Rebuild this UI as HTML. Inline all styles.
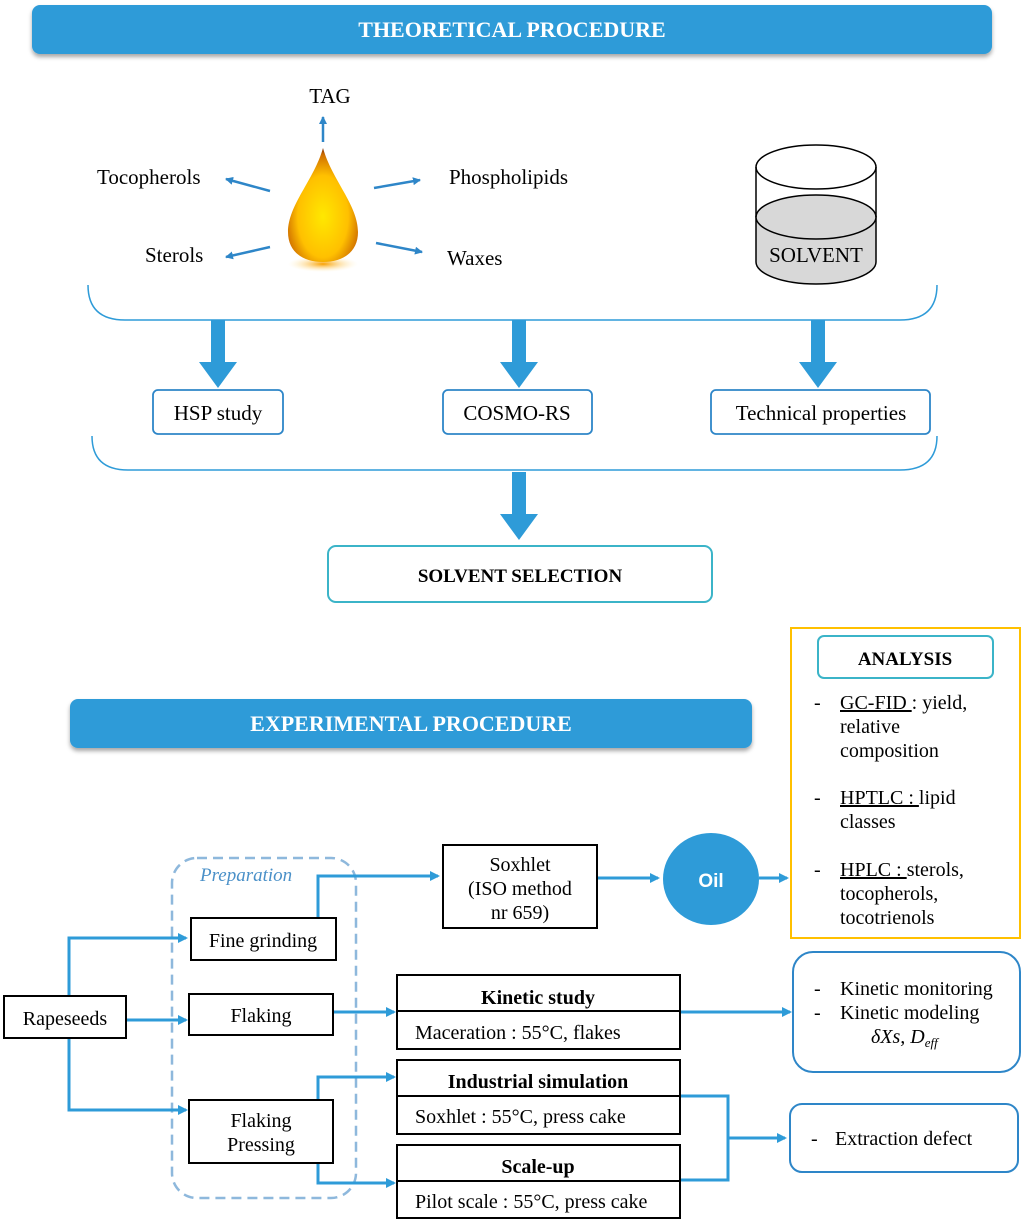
<!DOCTYPE html>
<html><head><meta charset="utf-8"><style>
html,body{margin:0;padding:0;background:#fff;}
svg{display:block;font-family:"Liberation Serif",serif;}
</style></head><body>
<svg width="1024" height="1225" viewBox="0 0 1024 1225" xmlns="http://www.w3.org/2000/svg">
<defs>
<marker id="a" markerWidth="10" markerHeight="10" refX="8" refY="5" orient="auto" markerUnits="userSpaceOnUse"><path d="M0,0 L10,5 L0,10 Z" fill="#2E9BD8"/></marker>
<marker id="s" markerWidth="8" markerHeight="8" refX="7" refY="4" orient="auto" markerUnits="userSpaceOnUse"><path d="M0,0 L8,4 L0,8 Z" fill="#2E86C8"/></marker>
<radialGradient id="drop" cx="0.5" cy="0.6" r="0.6"><stop offset="0" stop-color="#FFE800"/><stop offset="0.6" stop-color="#FFC000"/><stop offset="0.9" stop-color="#D07000"/><stop offset="1" stop-color="#7a2800"/></radialGradient>
<radialGradient id="glow" cx="0.5" cy="0.5" r="0.5"><stop offset="0" stop-color="#F9A000"/><stop offset="1" stop-color="#FFF0C0" stop-opacity="0"/></radialGradient>
<filter id="sh" x="-5%" y="-20%" width="110%" height="150%"><feDropShadow dx="0" dy="3" stdDeviation="2" flood-color="#000" flood-opacity="0.35"/></filter>
</defs>

<rect x="32" y="5" width="960" height="49" rx="8" fill="#2E9BD8" filter="url(#sh)"/>
<text x="512" y="37" text-anchor="middle" fill="#fff" font-size="22" font-weight="bold">THEORETICAL PROCEDURE</text>

<ellipse cx="323" cy="264" rx="35" ry="8" fill="url(#glow)"/>
<path d="M323,148 C332,180 358,205 358,232 C358,252 343,262 323,262 C303,262 288,252 288,232 C288,205 314,180 323,148 Z" fill="url(#drop)"/>
<text x="330" y="103" text-anchor="middle" font-size="21">TAG</text>
<line x1="323" y1="142" x2="323" y2="117" stroke="#2E86C8" stroke-width="2.5" marker-end="url(#s)"/>
<text x="97" y="184" font-size="21">Tocopherols</text>
<line x1="270" y1="191" x2="226" y2="179" stroke="#2E86C8" stroke-width="2.5" marker-end="url(#s)"/>
<text x="449" y="184" font-size="21">Phospholipids</text>
<line x1="374" y1="188" x2="420" y2="180" stroke="#2E86C8" stroke-width="2.5" marker-end="url(#s)"/>
<text x="145" y="262" font-size="21">Sterols</text>
<line x1="270" y1="247" x2="226" y2="257" stroke="#2E86C8" stroke-width="2.5" marker-end="url(#s)"/>
<text x="447" y="265" font-size="21">Waxes</text>
<line x1="376" y1="243" x2="422" y2="252" stroke="#2E86C8" stroke-width="2.5" marker-end="url(#s)"/>

<path d="M756,217 L756,262 A60,22 0 0 0 876,262 L876,217 Z" fill="#d8d8d8" stroke="#000" stroke-width="1.5"/>
<ellipse cx="816" cy="217" rx="60" ry="22" fill="#d8d8d8" stroke="#000" stroke-width="1.5"/>
<line x1="756" y1="167" x2="756" y2="217" stroke="#000" stroke-width="1.5"/>
<line x1="876" y1="167" x2="876" y2="217" stroke="#000" stroke-width="1.5"/>
<ellipse cx="816" cy="167" rx="60" ry="22" fill="none" stroke="#000" stroke-width="1.5"/>
<text x="816" y="262" text-anchor="middle" font-size="21">SOLVENT</text>

<path d="M88,285 Q88,320 125,320 L900,320 Q937,320 937,285" fill="none" stroke="#2E9BD8" stroke-width="1.5"/>
<g fill="#2E9BD8">
<path d="M211,320 h14 v42 h12 l-19,26 l-19,-26 h12 z"/>
<path d="M512,320 h14 v42 h12 l-19,26 l-19,-26 h12 z"/>
<path d="M811,320 h14 v42 h12 l-19,26 l-19,-26 h12 z"/>
<path d="M512,472 h14 v42 h12 l-19,26 l-19,-26 h12 z"/>
</g>
<g fill="#fff" stroke="#2E86C8" stroke-width="1.8">
<rect x="153" y="390" width="130" height="44" rx="5"/>
<rect x="443" y="390" width="149" height="44" rx="5"/>
<rect x="711" y="390" width="219" height="44" rx="5"/>
</g>
<g font-size="21" text-anchor="middle">
<text x="218" y="420">HSP study</text>
<text x="517" y="420">COSMO-RS</text>
<text x="821" y="420">Technical properties</text>
</g>
<path d="M92,436 Q92,470 128,470 L900,470 Q937,470 937,436" fill="none" stroke="#2E9BD8" stroke-width="1.5"/>

<rect x="328" y="546" width="384" height="56" rx="8" fill="#fff" stroke="#3BB4C8" stroke-width="2"/>
<text x="520" y="582" text-anchor="middle" font-size="19" font-weight="bold">SOLVENT SELECTION</text>

<rect x="791" y="628" width="229" height="310" fill="#fff" stroke="#FFC000" stroke-width="2"/>
<rect x="818" y="636" width="175" height="42" rx="6" fill="#fff" stroke="#3BB4C8" stroke-width="2"/>
<text x="905" y="665" text-anchor="middle" font-size="19" font-weight="bold">ANALYSIS</text>
<g font-size="20">
<text x="814" y="709">-</text><text x="840" y="709"><tspan text-decoration="underline">GC-FID </tspan>: yield,</text>
<text x="840" y="733">relative</text><text x="840" y="757">composition</text>
<text x="814" y="804">-</text><text x="840" y="804"><tspan text-decoration="underline">HPTLC : </tspan>lipid</text>
<text x="840" y="828">classes</text>
<text x="814" y="876">-</text><text x="840" y="876"><tspan text-decoration="underline">HPLC : </tspan>sterols,</text>
<text x="840" y="900">tocopherols,</text><text x="840" y="924">tocotrienols</text>
</g>

<rect x="70" y="699" width="682" height="49" rx="8" fill="#2E9BD8" filter="url(#sh)"/>
<text x="411" y="731" text-anchor="middle" fill="#fff" font-size="22" font-weight="bold">EXPERIMENTAL PROCEDURE</text>

<rect x="172" y="858" width="184" height="340" rx="25" fill="none" stroke="#8EB8DC" stroke-width="2.5" stroke-dasharray="10,6"/>
<text x="200" y="881" font-size="19" font-style="italic" fill="#4A90C8">Preparation</text>

<g fill="none" stroke="#2E9BD8" stroke-width="3">
<path d="M69,996 V938 H186" marker-end="url(#a)"/>
<path d="M126,1020 H186" marker-end="url(#a)"/>
<path d="M69,1038 V1110 H186" marker-end="url(#a)"/>
<path d="M318,918 V876 H438" marker-end="url(#a)"/>
<path d="M597,878 H658" marker-end="url(#a)"/>
<path d="M759,878 H787" marker-end="url(#a)"/>
<path d="M333,1012 H394" marker-end="url(#a)"/>
<path d="M680,1012 H790" marker-end="url(#a)"/>
<path d="M318,1100 V1077 H394" marker-end="url(#a)"/>
<path d="M318,1163 V1183 H394" marker-end="url(#a)"/>
<path d="M680,1096 H728 V1180 H680"/>
<path d="M728,1138 H785" marker-end="url(#a)"/>
</g>

<g fill="#fff" stroke="#000" stroke-width="2">
<rect x="4" y="996" width="122" height="42"/>
<rect x="191" y="918" width="145" height="42"/>
<rect x="189" y="994" width="144" height="41"/>
<rect x="189" y="1100" width="144" height="63"/>
<rect x="443" y="845" width="154" height="83"/>
<rect x="397" y="975" width="283" height="74"/><line x1="397" y1="1011" x2="680" y2="1011"/>
<rect x="397" y="1060" width="283" height="74"/><line x1="397" y1="1096" x2="680" y2="1096"/>
<rect x="397" y="1145" width="283" height="73"/><line x1="397" y1="1181" x2="680" y2="1181"/>
</g>
<ellipse cx="711" cy="879" rx="48" ry="46" fill="#2E9BD8"/>
<text x="711" y="887" text-anchor="middle" font-size="19" font-weight="bold" fill="#fff" font-family="Liberation Sans, sans-serif">Oil</text>

<g fill="#fff" stroke="#2E86C8" stroke-width="2">
<rect x="793" y="952" width="227" height="120" rx="20"/>
<rect x="790" y="1104" width="228" height="68" rx="12"/>
</g>

<g font-size="20">
<text x="65" y="1025" text-anchor="middle">Rapeseeds</text>
<text x="263" y="947" text-anchor="middle">Fine grinding</text>
<text x="261" y="1022" text-anchor="middle">Flaking</text>
<text x="261" y="1127" text-anchor="middle">Flaking</text>
<text x="261" y="1151" text-anchor="middle">Pressing</text>
<text x="520" y="871" text-anchor="middle">Soxhlet</text>
<text x="520" y="895" text-anchor="middle">(ISO method</text>
<text x="520" y="919" text-anchor="middle">nr 659)</text>
<text x="538" y="1004" text-anchor="middle" font-weight="bold">Kinetic study</text>
<text x="415" y="1039">Maceration : 55°C, flakes</text>
<text x="538" y="1088" text-anchor="middle" font-weight="bold">Industrial simulation</text>
<text x="415" y="1123">Soxhlet : 55°C, press cake</text>
<text x="538" y="1173" text-anchor="middle" font-weight="bold">Scale-up</text>
<text x="415" y="1208">Pilot scale : 55°C, press cake</text>
<text x="814" y="995">-</text><text x="840" y="995">Kinetic monitoring</text>
<text x="814" y="1019">-</text><text x="840" y="1019">Kinetic modeling</text>
<text x="871" y="1043" font-style="italic">δXs, D<tspan font-size="13" dy="4">eff</tspan></text>
<text x="811" y="1145">-</text><text x="835" y="1145">Extraction defect</text>
</g>
</svg>
</body></html>
